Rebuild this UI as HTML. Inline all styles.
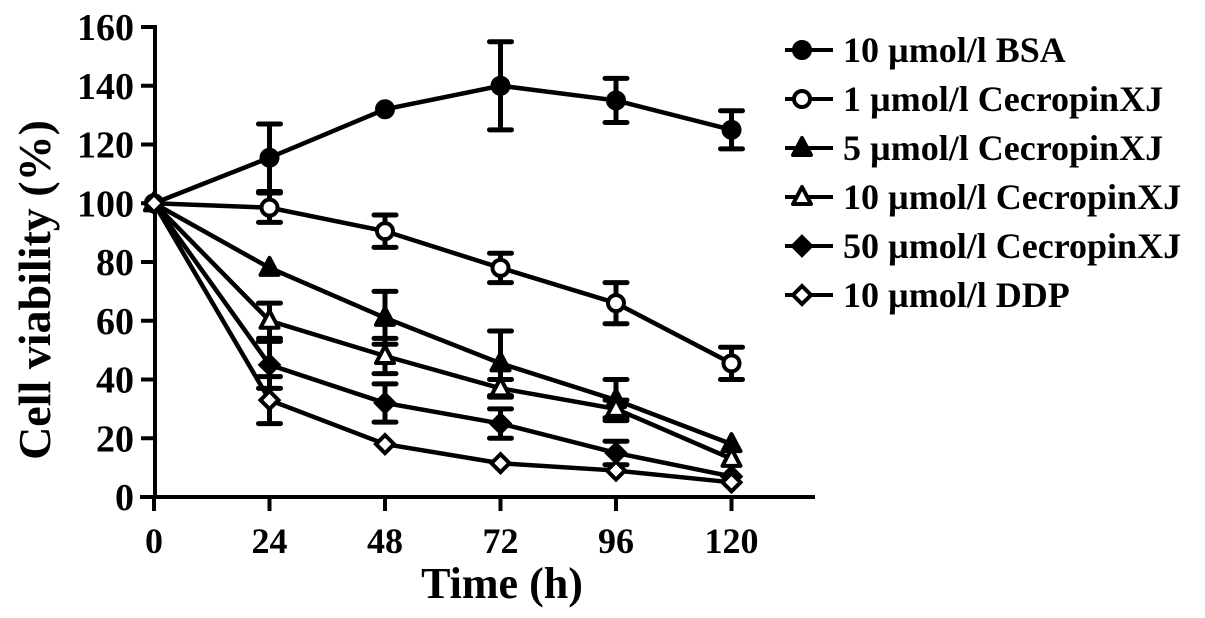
<!DOCTYPE html>
<html><head><meta charset="utf-8"><style>
html,body{margin:0;padding:0;background:#fff;}
svg{display:block;font-family:"Liberation Serif",serif;font-weight:bold;}
</style></head><body>
<svg id="chart" width="1205" height="618" viewBox="0 0 1205 618" xmlns="http://www.w3.org/2000/svg">
<g id="axes"></g>
<g id="series"></g>
<g id="legend"></g>
<text x="502" y="598" font-size="44" text-anchor="middle">Time (h)</text>
<text transform="translate(50,290) rotate(-90)" font-size="46" text-anchor="middle">Cell viability (%)</text>
</svg>
<script>
const times = [0, 24, 48, 72, 96, 120];
const yTicks = [0, 20, 40, 60, 80, 100, 120, 140, 160];
const seriesNames = ["10 µmol/l BSA", "1 µmol/l CecropinXJ", "5 µmol/l CecropinXJ", "10 µmol/l CecropinXJ", "50 µmol/l CecropinXJ", "10 µmol/l DDP"];
const bsa = [100, 115.5, 132, 140, 135, 125];
const bsaErr = [1, 11.5, 1, 15, 7.5, 6.5];
const cx1 = [100, 98.5, 90.5, 78, 66, 45.5];
const cx1Err = [1, 5, 5.5, 5, 7, 5.5];
const cx5 = [100, 78, 61, 45.5, 33, 18];
const cx5Err = [1, 1, 9, 11, 7, 1];
const cx10 = [100, 60, 48, 37, 30, 13];
const cx10Err = [1, 6, 6, 3, 3, 2];
const cx50 = [100, 45, 32, 25, 15, 7];
const cx50Err = [1, 8, 6.5, 5, 4, 1];
const ddp = [100, 33, 18, 11.5, 9, 5];
const ddpErr = [1, 8, 1, 1, 1, 1];
const seriesVals = [bsa, cx1, cx5, cx10, cx50, ddp];
const seriesErrs = [bsaErr, cx1Err, cx5Err, cx10Err, cx50Err, ddpErr];
const markers = ["circle", "ocircle", "tri", "otri", "diamond", "odiamond"];

const NS = "http://www.w3.org/2000/svg";
const X = t => 154 + t * (577.5 / 120);
const Y = v => 497 - v * (470 / 160);
function mk(tag, attrs, parent) {
  const e = document.createElementNS(NS, tag);
  for (const k in attrs) e.setAttribute(k, attrs[k]);
  parent.appendChild(e);
  return e;
}
const axes = document.getElementById('axes');
let l = mk('line', {x1: 155, y1: Y(160) - 2, x2: 155, y2: 499, stroke: '#000', 'stroke-width': 4}, axes);


l = mk('line', {x1: 140, y1: 497, x2: 815, y2: 497, stroke: '#000', 'stroke-width': 4}, axes);


yTicks.forEach(v => {
  const t = mk('line', {x1: 141, y1: Y(v), x2: 155, y2: Y(v), stroke: '#000', 'stroke-width': 4}, axes);
  
  
  const tx = mk('text', {x: 134, y: Y(v) + 13, 'font-size': 38, 'text-anchor': 'end'}, axes);
  tx.textContent = v;
  
  
});
times.forEach(v => {
  const t = mk('line', {x1: X(v), y1: 497, x2: X(v), y2: 511, stroke: '#000', 'stroke-width': 4}, axes);
  
  
  const tx = mk('text', {x: X(v), y: 553, 'font-size': 36, 'text-anchor': 'middle'}, axes);
  tx.textContent = v;
  
  
});
function marker(type, x, y, parent) {
  const r = 8;
  let e;
  if (type === 'circle' || type === 'ocircle') {
    e = mk('circle', {cx: x, cy: y, r: r, fill: type === 'circle' ? '#000' : '#fff', stroke: '#000', 'stroke-width': 4}, parent);
  } else if (type === 'tri' || type === 'otri') {
    e = mk('polygon', {points: `${x},${y - r - 2} ${x + r + 1},${y + r - 1} ${x - r - 1},${y + r - 1}`, fill: type === 'tri' ? '#000' : '#fff', stroke: '#000', 'stroke-width': 4, 'stroke-linejoin': 'round'}, parent);
  } else {
    e = mk('polygon', {points: `${x},${y - r - 1} ${x + r + 1},${y} ${x},${y + r + 1} ${x - r - 1},${y}`, fill: type === 'diamond' ? '#000' : '#fff', stroke: '#000', 'stroke-width': 4}, parent);
  }
  return e;
}
const sg = document.getElementById('series');
seriesVals.forEach((vals, si) => {
  const g = mk('g', {}, sg);
  
  
  const pts = vals.map((v, i) => X(times[i]) + ',' + Y(v)).join(' ');
  const pl = mk('polyline', {points: pts, fill: 'none', stroke: '#000', 'stroke-width': 4.5}, g);
  
  
  vals.forEach((v, i) => {
    const e = seriesErrs[si][i];
    const x = X(times[i]);
    if (e > 2) {
      const eb = mk('path', {d: `M${x},${Y(v + e)}V${Y(v - e)}M${x - 11},${Y(v + e)}H${x + 11}M${x - 11},${Y(v - e)}H${x + 11}`, stroke: '#000', 'stroke-width': 5, fill: 'none', 'stroke-linecap': 'round'}, g);
      
      
    }
    const m = marker(markers[si], x, Y(v), g);
    
    
  });
});
const lg = document.getElementById('legend');
seriesNames.forEach((n, i) => {
  const y = 50 + i * 49;
  const g = mk('g', {}, lg);
  
  
  mk('line', {x1: 785, y1: y, x2: 833, y2: y, stroke: '#000', 'stroke-width': 4}, g);
  const m = marker(markers[i], 802, y, g);
  
  
  const t = mk('text', {x: 843, y: y + 12, 'font-size': 36}, g);
  t.textContent = n;
  
  
});
</script>
</body></html>
